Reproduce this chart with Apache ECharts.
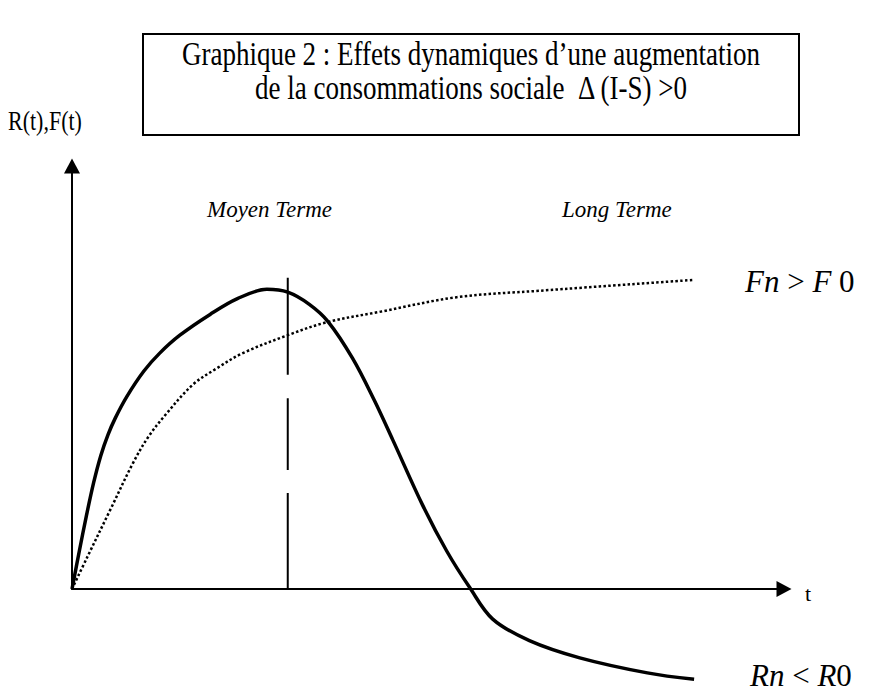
<!DOCTYPE html>
<html><head><meta charset="utf-8">
<script src="https://cdn.jsdelivr.net/npm/echarts@6/dist/echarts.min.js"></script>
<style>html,body{margin:0;padding:0;background:#fff}#c{width:869px;height:691px}</style>
</head><body><div id="c"></div>
<script>
// ---- text ----
const titleLines = ['Graphique 2 : Effets dynamiques d\u2019une augmentation', 'de la consommations sociale  \u0394 (I-S) >0'];
const yAxisName = 'R(t),F(t)';
const xAxisName = 't';
const periodLabels = ['Moyen Terme', 'Long Terme'];
// ---- solid curve R(t) ----
const rT      = [0, 0.1, 0.2, 0.3, 0.4, 0.5, 0.6, 0.76, 1.0, 1.22, 1.5, 1.92, 2.3, 2.71, 3.0, 3.3, 3.56, 3.9, 4.2, 4.46, 4.875, 5.21, 5.53, 5.85, 6.36, 7.06, 8.0, 8.65];
const rValues = [0, 0.52, 1.02, 1.48, 1.86, 2.15, 2.38, 2.68, 3.04, 3.29, 3.54, 3.83, 4.05, 4.18, 4.14, 3.97, 3.73, 3.22, 2.64, 2.08, 1.17, 0.53, 0.02, -0.42, -0.72, -0.96, -1.17, -1.26];
// ---- dotted curve F(t) ----
const fT      = [0, 0.21, 0.53, 0.85, 1.06, 1.3, 1.68, 2.0, 2.375, 3.0, 3.54, 4.3, 5.35, 6.5, 8.625];
const fValues = [0, 0.44, 1.1, 1.76, 2.12, 2.43, 2.85, 3.07, 3.29, 3.54, 3.72, 3.87, 4.07, 4.16, 4.31];
// ---- medium-term marker (vertical dashed line) ----
const midT = 3.0;
const midDashes = [[0, 1.34], [1.66, 2.66], [2.99, 4.34]];

const rData = rT.map((t, i) => [t, rValues[i]]);
const fData = fT.map((t, i) => [t, fValues[i]]);
const midData = [];
midDashes.forEach((d, i) => { if (i) midData.push([midT, '-']); midData.push([midT, d[0]], [midT, d[1]]); });

const serif = '"Liberation Serif","Times New Roman",serif';
const axisCommon = {
  type: 'value',
  axisLine: { show: true, onZero: true, symbol: ['none', 'triangle'], symbolSize: [16, 15], lineStyle: { color: '#000', width: 2 } },
  axisTick: { show: false }, axisLabel: { show: false }, splitLine: { show: false }
};
function txt(x, y, text, font, extra) {
  return Object.assign({ type: 'text', x: x, y: y, style: { text: text, font: font, fill: '#000', textAlign: 'left', textVerticalAlign: 'middle' } }, extra || {});
}
const mathRich = { i: { font: 'italic 31px ' + serif, fill: '#000' }, r: { font: '31px ' + serif, fill: '#000' } };

const chart = echarts.init(document.getElementById('c'), null, { renderer: 'svg' });
chart.setOption({
  backgroundColor: '#fff',
  animation: false,
  grid: { left: 72, right: 85, top: 166, bottom: 102 },
  xAxis: Object.assign({}, axisCommon, { min: 0, max: 9.9 }),
  yAxis: Object.assign({}, axisCommon, { min: 0, max: 5.9 }),
  series: [
    { type: 'line', data: rData, smooth: 0.35, showSymbol: false, clip: false,
      lineStyle: { color: '#000', width: 3.5 } },
    { type: 'line', data: fData, smooth: 0.35, showSymbol: false, clip: false,
      lineStyle: { color: '#000', width: 2.5, type: [2.5, 2.3], cap: 'butt' } },
    { type: 'line', data: midData, showSymbol: false, clip: false, connectNulls: false,
      lineStyle: { color: '#000', width: 2 } }
  ],
  graphic: [
    { type: 'rect', shape: { x: 143, y: 34, width: 656, height: 101 }, style: { fill: 'none', stroke: '#000', lineWidth: 2 } },
    { type: 'text', x: 471, y: 54, scaleY: 1.25, style: { text: titleLines[0], font: '27px ' + serif, fill: '#000', textAlign: 'center', textVerticalAlign: 'middle' } },
    { type: 'text', x: 471, y: 88, scaleY: 1.25, style: { text: titleLines[1], font: '27px ' + serif, fill: '#000', textAlign: 'center', textVerticalAlign: 'middle' } },
    txt(8, 121, yAxisName, '22px ' + serif, { scaleY: 1.2 }),
    txt(805, 593, xAxisName, '22px ' + serif),
    txt(207, 209, periodLabels[0], 'italic 23px ' + serif),
    txt(562, 209, periodLabels[1], 'italic 23px ' + serif),
    { type: 'text', x: 745, y: 281, style: { text: '{i|Fn }{r|> }{i|F}{r| 0}', fill: '#000', textAlign: 'left', textVerticalAlign: 'middle', rich: mathRich } },
    { type: 'text', x: 750, y: 675, style: { text: '{i|Rn }{r|< }{i|R}{r|0}', fill: '#000', textAlign: 'left', textVerticalAlign: 'middle', rich: mathRich } }
  ]
});
</script></body></html>
